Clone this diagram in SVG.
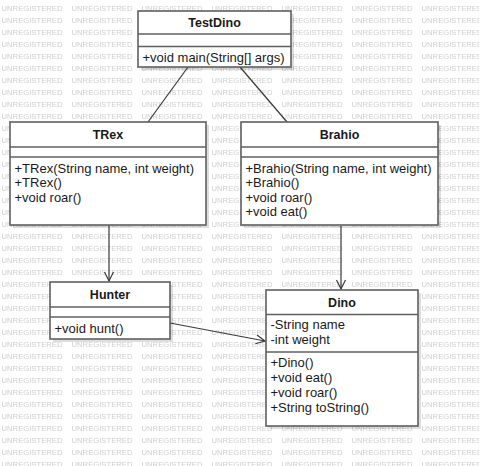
<svg xmlns="http://www.w3.org/2000/svg" width="479" height="466" viewBox="0 0 479 466">
<style>
.box{fill:#ffffff;stroke:#5f5f5f;stroke-width:1.6}
.shd{fill:#000000;fill-opacity:0.13}
.sep{stroke:#5f5f5f;stroke-width:1.6}
.t{font-family:"Liberation Sans",Arial,sans-serif;font-size:13px;fill:#1a1a1a}
.h{font-family:"Liberation Sans",Arial,sans-serif;font-size:12.5px;font-weight:bold;fill:#1a1a1a;text-anchor:middle}
.wm{font-family:"Liberation Sans",Arial,sans-serif;font-size:7px;fill:#cecece}
.ln{fill:none;stroke:#3a3a3a;stroke-width:1.2}
</style>
<defs>
<pattern id="wmp" x="0" y="0" width="70" height="12" patternUnits="userSpaceOnUse">
<text class="wm" x="1.5" y="11.2" textLength="61" lengthAdjust="spacingAndGlyphs">UNREGISTERED</text>
</pattern>
<marker id="open" markerWidth="12" markerHeight="12" refX="10" refY="5" orient="auto" markerUnits="userSpaceOnUse" viewBox="0 0 12 10">
<path d="M1,0.5 L10,5 L1,9.5" fill="none" stroke="#3a3a3a" stroke-width="1.2"/>
</marker>
</defs>
<rect x="0" y="0" width="479" height="466" fill="#ffffff"/>
<rect x="0" y="0" width="479" height="466" fill="url(#wmp)"/>

<g id="connectors">
<line class="ln" x1="188" y1="67" x2="148" y2="122"/>
<line class="ln" x1="240" y1="67" x2="287" y2="122"/>
<line class="ln" x1="109" y1="225" x2="109" y2="281" marker-end="url(#open)"/>
<line class="ln" x1="341" y1="226" x2="341" y2="289" marker-end="url(#open)"/>
<line class="ln" x1="170" y1="323" x2="265" y2="341" marker-end="url(#open)"/>
</g>

<g id="TestDino">
<rect class="shd" x="141" y="14" width="153" height="56"/>
<rect class="box" x="138" y="11" width="153" height="56"/>
<line class="sep" x1="138" y1="34" x2="291" y2="34"/>
<line class="sep" x1="138" y1="46.5" x2="291" y2="46.5"/>
<text class="h" x="214.5" y="27">TestDino</text>
<text class="t" x="142.5" y="61.5">+void main(String[] args)</text>
</g>

<g id="TRex">
<rect class="shd" x="13" y="125" width="196" height="103"/>
<rect class="box" x="10" y="122" width="196" height="103"/>
<line class="sep" x1="10" y1="147" x2="206" y2="147"/>
<line class="sep" x1="10" y1="157" x2="206" y2="157"/>
<text class="h" x="108" y="139">TRex</text>
<text class="t" x="14.5" y="172.5">+TRex(String name, int weight)</text>
<text class="t" x="14.5" y="187">+TRex()</text>
<text class="t" x="14.5" y="201.5">+void roar()</text>
</g>

<g id="Brahio">
<rect class="shd" x="244" y="125" width="197" height="103"/>
<rect class="box" x="241" y="122" width="197" height="103"/>
<line class="sep" x1="241" y1="147" x2="438" y2="147"/>
<line class="sep" x1="241" y1="157" x2="438" y2="157"/>
<text class="h" x="339.5" y="139">Brahio</text>
<text class="t" x="245.5" y="172.5">+Brahio(String name, int weight)</text>
<text class="t" x="245.5" y="187">+Brahio()</text>
<text class="t" x="245.5" y="201.5">+void roar()</text>
<text class="t" x="245.5" y="216">+void eat()</text>
</g>

<g id="Hunter">
<rect class="shd" x="53" y="285" width="120" height="57"/>
<rect class="box" x="50" y="282" width="120" height="57"/>
<line class="sep" x1="50" y1="307" x2="170" y2="307"/>
<line class="sep" x1="50" y1="317" x2="170" y2="317"/>
<text class="h" x="110" y="298.5">Hunter</text>
<text class="t" x="54.5" y="332.5">+void hunt()</text>
</g>

<g id="Dino">
<rect class="shd" x="269" y="293" width="152" height="136"/>
<rect class="box" x="266" y="290" width="152" height="136"/>
<line class="sep" x1="266" y1="314.5" x2="418" y2="314.5"/>
<line class="sep" x1="266" y1="352" x2="418" y2="352"/>
<text class="h" x="342" y="307">Dino</text>
<text class="t" x="270.5" y="329">-String name</text>
<text class="t" x="270.5" y="344">-int weight</text>
<text class="t" x="270.5" y="366.5">+Dino()</text>
<text class="t" x="270.5" y="381.5">+void eat()</text>
<text class="t" x="270.5" y="396.5">+void roar()</text>
<text class="t" x="270.5" y="411.5">+String toString()</text>
</g>
</svg>
